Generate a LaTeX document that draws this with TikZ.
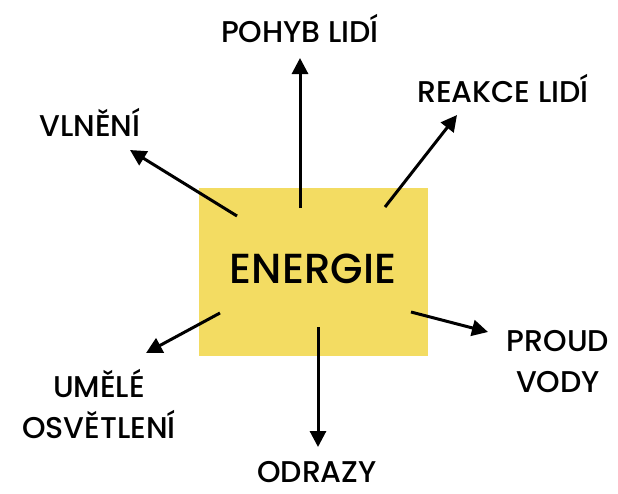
\documentclass[tikz,border=0pt]{standalone}
\usepackage{fontspec}
\setmainfont{Poppins}[BoldFont={* Medium}]
\usetikzlibrary{arrows.meta}
\definecolor{boxyellow}{HTML}{F3DC62}

\begin{document}
\begin{tikzpicture}[x=1pt, y=-1pt, line width=3pt,
    ray/.style={-{Triangle[length=16pt,width=16pt]}, black},
    label/.style={font=\fontsize{30}{41}\selectfont\bfseries, align=center, inner sep=0pt, anchor=base}]
  \useasboundingbox (0,0) rectangle (618,493);

  \node[fill=boxyellow, minimum width=229pt, minimum height=168pt, inner sep=0pt] (energie) at (313.5, 272) {};
  \node[font=\fontsize{42}{40}\selectfont\bfseries, anchor=base] (title) at (313, 283) {ENERGIE};

  \node[label] (pohyb) at (300, 42) {POHYB LIDÍ};
  \node[label] (reakce) at (503, 102) {REAKCE LIDÍ};
  \node[label] (vlneni) at (90, 136) {VLNĚNÍ};
  \node[label] (proud) at (558, 392) {PROUD\\VODY};
  \node[label, text depth=0pt] (odrazy) at (317, 482) {ODRAZY};
  \node[label] (umele) at (99, 438) {UMĚLÉ\\OSVĚTLENÍ};

  % ray ends
  \coordinate (p0) at (300, 208);  \coordinate (p1) at (300, 58);
  \coordinate (r0) at (385, 207);  \coordinate (r1) at (457, 115);
  \coordinate (v0) at (237, 216);  \coordinate (v1) at (130, 150);
  \coordinate (u0) at (220, 313);  \coordinate (u1) at (146, 353);
  \coordinate (w0) at (411, 312);  \coordinate (w1) at (488, 332);
  \coordinate (o0) at (318, 327);  \coordinate (o1) at (318, 447);

  \draw[ray] (p0) -- (p1);
  \draw[ray] (r0) -- (r1);
  \draw[ray] (v0) -- (v1);
  \draw[ray] (u0) -- (u1);
  \draw[ray] (w0) -- (w1);
  \draw[ray] (o0) -- (o1);
\end{tikzpicture}
\end{document}
